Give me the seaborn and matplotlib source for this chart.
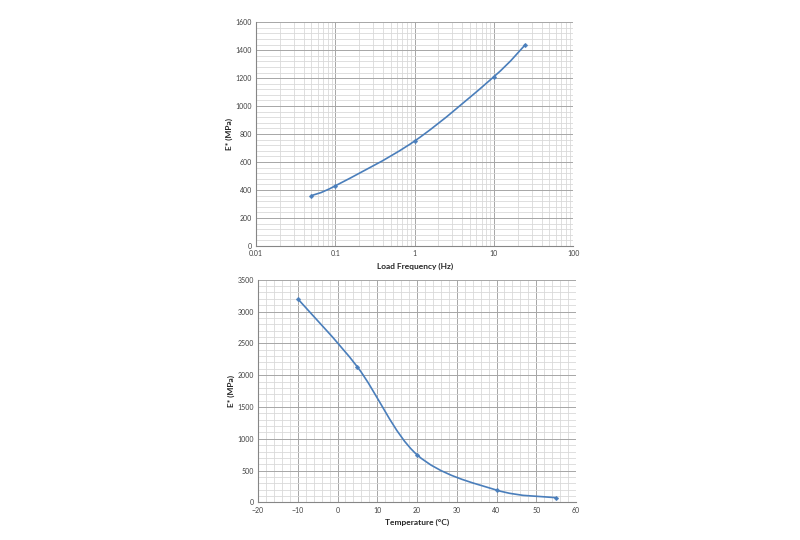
import numpy as np
import matplotlib
matplotlib.use("Agg")
import matplotlib.pyplot as plt
import seaborn as sns
from matplotlib.path import Path
from matplotlib.patches import PathPatch
from matplotlib.ticker import MultipleLocator, LogLocator, FixedLocator

# ======================================================
# DATA
# ======================================================

freq_hz = [0.05, 0.1, 1, 10, 25]
e_freq_mpa = [360, 430, 750, 1210, 1440]

temp_c = [-10, 5, 20, 40, 55]
e_temp_mpa = [3200, 2130, 750, 195, 75]

freq_ticks = [0.01, 0.1, 1, 10, 100]
freq_labels = ["0.01", "0.1", "1", "10", "100"]

LINE_COLOR = "#4A7EBB"
MAJOR_GRID = "#A6A6A6"
MINOR_GRID = "#D9D9D9"

sns.set_style("white")
plt.rcParams["font.family"] = ["Lato", "DejaVu Sans"]


def smooth_path(xs, ys):
    # Excel-like smoothed line: Catmull-Rom segments as cubic beziers
    pts = np.column_stack([xs, ys]).astype(float)
    n = len(pts)
    verts = [pts[0]]
    codes = [Path.MOVETO]
    for i in range(n - 1):
        p0 = pts[max(i - 1, 0)]
        p1 = pts[i]
        p2 = pts[i + 1]
        p3 = pts[min(i + 2, n - 1)]
        c1 = p1 + (p2 - p0) / 6.0
        c2 = p2 - (p3 - p1) / 6.0
        verts += [c1, c2, p2]
        codes += [Path.CURVE4] * 3
    return np.array(verts), codes


def style_axes(ax):
    for side in ["top", "right"]:
        ax.spines[side].set_visible(False)
    for side in ["left", "bottom"]:
        ax.spines[side].set_color("#868686")
        ax.spines[side].set_linewidth(0.8)
    ax.grid(which="major", color=MAJOR_GRID, linewidth=0.7)
    ax.grid(which="minor", color=MINOR_GRID, linewidth=0.6)
    ax.set_axisbelow(True)
    ax.tick_params(which="both", length=0, labelsize=5, colors="#404040", pad=3)
    ax.axvline(ax.get_xlim()[1], color=MINOR_GRID, linewidth=0.6)


fig = plt.figure(figsize=(8, 5.4), dpi=100)

# ======================================================
# TOP -- E* vs LOAD FREQUENCY
# ======================================================

ax1 = fig.add_axes([0.32, 0.5445, 0.3965, 0.4145])
ax1.set_xscale("log")
ax1.set_xlim(0.01, 100)
ax1.set_ylim(0, 1600)
ax1.xaxis.set_major_locator(FixedLocator(freq_ticks))
ax1.set_xticklabels(freq_labels)
ax1.xaxis.set_minor_locator(LogLocator(base=10, subs=np.arange(2, 10), numticks=20))
ax1.xaxis.set_minor_formatter(plt.NullFormatter())
ax1.yaxis.set_major_locator(MultipleLocator(200))
ax1.yaxis.set_minor_locator(MultipleLocator(40))

vx, codes = smooth_path(np.log10(freq_hz), e_freq_mpa)
vx[:, 0] = 10 ** vx[:, 0]
ax1.add_patch(PathPatch(Path(vx, codes), facecolor="none", edgecolor=LINE_COLOR,
                        linewidth=1.2, zorder=3))
sns.scatterplot(x=freq_hz, y=e_freq_mpa, ax=ax1, marker="D", s=6,
                color=LINE_COLOR, edgecolor=LINE_COLOR, zorder=4)
ax1.set_xlabel("Load Frequency (Hz)", fontsize=6, fontweight="bold", labelpad=4)
ax1.set_ylabel("E* (MPa)", fontsize=6, fontweight="bold", labelpad=2)
style_axes(ax1)

# ======================================================
# BOTTOM -- E* vs TEMPERATURE
# ======================================================

ax2 = fig.add_axes([0.3225, 0.0695, 0.3975, 0.4125])
ax2.set_xlim(-20, 60)
ax2.set_ylim(0, 3500)
ax2.xaxis.set_major_locator(MultipleLocator(10))
ax2.xaxis.set_minor_locator(MultipleLocator(2))
ax2.yaxis.set_major_locator(MultipleLocator(500))
ax2.yaxis.set_minor_locator(MultipleLocator(100))

vt, codes = smooth_path(temp_c, e_temp_mpa)
ax2.add_patch(PathPatch(Path(vt, codes), facecolor="none", edgecolor=LINE_COLOR,
                        linewidth=1.2, zorder=3))
sns.scatterplot(x=temp_c, y=e_temp_mpa, ax=ax2, marker="D", s=6,
                color=LINE_COLOR, edgecolor=LINE_COLOR, zorder=4)
ax2.set_xlabel("Temperature (°C)", fontsize=6, fontweight="bold", labelpad=4)
ax2.set_ylabel("E* (MPa)", fontsize=6, fontweight="bold", labelpad=2)
style_axes(ax2)

fig.savefig("out.png", dpi=100, facecolor="white")
